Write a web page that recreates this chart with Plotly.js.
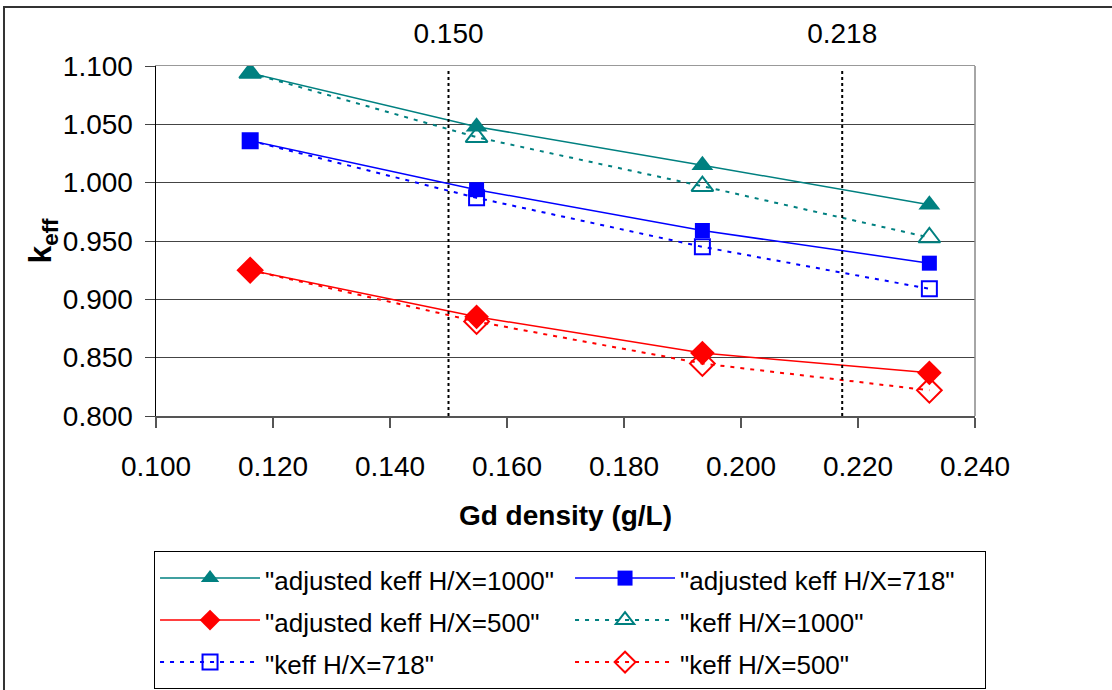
<!DOCTYPE html>
<html>
<head>
<meta charset="utf-8">
<script src="https://cdn.plot.ly/plotly-3.0.1.min.js"></script>
<style>html,body{margin:0;padding:0;background:#fff;}#chart{width:1112px;height:690px;}</style>
</head>
<body>
<div id="chart"></div>
<script>
// Data
const gdDensity = [0.1161, 0.1548, 0.1934, 0.2322];
const adjKeff1000 = [1.094, 1.048, 1.015, 0.981];
const adjKeff718  = [1.036, 0.994, 0.959, 0.931];
const adjKeff500  = [0.925, 0.885, 0.854, 0.837];
const keff1000    = [1.094, 1.039, 0.997, 0.953];
const keff718     = [1.036, 0.987, 0.945, 0.909];
const keff500     = [0.925, 0.881, 0.845, 0.822];
const seriesNames = ['"adjusted keff H/X=1000"', '"adjusted keff H/X=718"', '"adjusted keff H/X=500"',
                     '"keff H/X=1000"', '"keff H/X=718"', '"keff H/X=500"'];
const markerLimits = [0.150, 0.2173];
const markerLimitLabels = ['0.150', '0.218'];
const yLimits = [0.8, 1.1];

const TEAL = '#008080', BLUE = '#0000FF', RED = '#FF0000';
const FONT = 'Liberation Sans, Arial, sans-serif';
const DASH = '4px,6px';
const legName = n => '<span style="font-size:26px">' + n + '</span>';

const traces = [
  {x: gdDensity, y: adjKeff1000, name: legName(seriesNames[0]), mode: 'lines+markers',
   line: {color: TEAL, width: 1.5}, marker: {symbol: 'triangle-up', size: 19, color: TEAL}},
  {x: gdDensity, y: adjKeff718, name: legName(seriesNames[1]), mode: 'lines+markers',
   line: {color: BLUE, width: 1.5}, marker: {symbol: 'square', size: 15, color: BLUE}},
  {x: gdDensity, y: adjKeff500, name: legName(seriesNames[2]), mode: 'lines+markers',
   line: {color: RED, width: 1.5}, marker: {symbol: 'diamond', size: 19, color: RED}},
  {x: gdDensity, y: keff1000, name: legName(seriesNames[3]), mode: 'lines+markers',
   line: {color: TEAL, width: 2, dash: DASH}, marker: {symbol: 'triangle-up-open', size: 19, color: TEAL, line: {width: 2}}},
  {x: gdDensity, y: keff718, name: legName(seriesNames[4]), mode: 'lines+markers',
   line: {color: BLUE, width: 2, dash: DASH}, marker: {symbol: 'square-open', size: 15, color: BLUE, line: {width: 2}}},
  {x: gdDensity, y: keff500, name: legName(seriesNames[5]), mode: 'lines+markers',
   line: {color: RED, width: 2, dash: DASH}, marker: {symbol: 'diamond-open', size: 19, color: RED, line: {width: 2}}},
  // invisible trace to activate the top axis
  {x: markerLimits, y: [yLimits[1], yLimits[1]], xaxis: 'x2', mode: 'markers',
   marker: {opacity: 0}, showlegend: false, hoverinfo: 'skip'}
];

const shapes = markerLimits.map(v => ({
  type: 'line', xref: 'x', yref: 'y', x0: v, x1: v, y0: yLimits[0], y1: yLimits[1] - 0.003,
  line: {color: '#000', width: 2, dash: 'dot'}, layer: 'above'
}));
// outer chart frame (top & left visible, right/bottom cropped)
shapes.push({type: 'rect', xref: 'paper', yref: 'paper', x0: -0.1856, x1: 1.5, y0: -2, y1: 1.1686,
  line: {color: '#333', width: 2}, layer: 'below'});
// right border of the plot area
shapes.push({type: 'line', xref: 'paper', yref: 'paper', x0: 1, x1: 1, y0: 0, y1: 1,
  line: {color: '#888', width: 1.5}});

const layout = {
  width: 1112, height: 690,
  margin: {l: 156, r: 137, t: 66, b: 274, autoexpand: false},
  paper_bgcolor: '#fff', plot_bgcolor: '#fff',
  font: {family: FONT, color: '#000', size: 28},
  showlegend: true,
  xaxis: {
    range: [0.1, 0.24], dtick: 0.02, tick0: 0.1, tickformat: '.3f',
    showgrid: false, zeroline: false,
    showline: true, linecolor: '#555', linewidth: 1.5, mirror: false,
    ticks: 'outside', ticklen: 10, tickcolor: '#555', tickwidth: 1.5,
    ticklabelstandoff: 15,
    tickfont: {size: 28, family: FONT},
    title: {text: '<b>Gd density (g/L)</b>', font: {size: 28, family: FONT}, standoff: 24}
  },
  xaxis2: {
    overlaying: 'x', side: 'top', range: [0.1, 0.24],
    tickvals: markerLimits, ticktext: markerLimitLabels,
    showgrid: false, zeroline: false, showline: true, linecolor: '#999', linewidth: 1.5,
    ticks: '', ticklabelstandoff: 10,
    tickfont: {size: 28, family: FONT}
  },
  yaxis: {
    range: yLimits, dtick: 0.05, tick0: 0.8, tickformat: '.3f',
    showgrid: true, gridcolor: '#444', gridwidth: 1,
    zeroline: false, showline: true, linecolor: '#000', linewidth: 1.5, mirror: false,
    ticks: 'outside', ticklen: 10, tickcolor: '#444', tickwidth: 1,
    ticklabelstandoff: 6,
    tickfont: {size: 28, family: FONT},
    title: {text: '<b>k<sub>eff</sub></b>', font: {size: 32, family: FONT}, standoff: 0}
  },
  legend: {
    orientation: 'h', x: -0.0024, xanchor: 'left', y: -0.386, yanchor: 'top',
    bordercolor: '#000', borderwidth: 1, bgcolor: '#fff',
    font: {size: 30, family: FONT}, itemwidth: 100, entrywidth: 300,
    traceorder: 'normal', itemclick: false
  },
  shapes: shapes
};

Plotly.newPlot('chart', traces, layout, {displayModeBar: false, staticPlot: true});
</script>
</body>
</html>
